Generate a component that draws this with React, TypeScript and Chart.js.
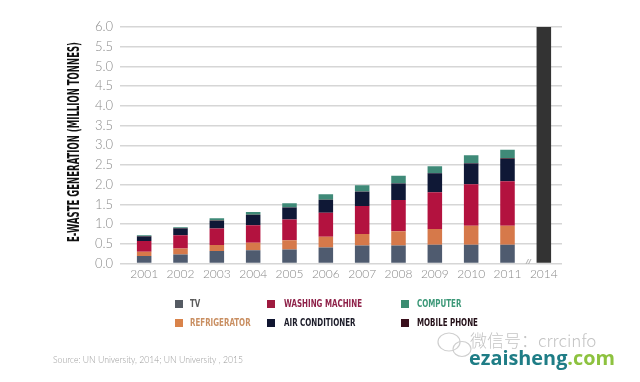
import React, { useEffect, useRef } from "react";
import { Chart, registerables } from "chart.js";

Chart.register(...registerables);

const categories = ["2001", "2002", "2003", "2004", "2005", "2006", "2007", "2008", "2009", "2010", "2011", "2014"];
const tvValues = [0.19, 0.23, 0.32, 0.34, 0.36, 0.41, 0.46, 0.46, 0.48, 0.48, 0.48, null];
const refrigeratorValues = [0.11, 0.15, 0.15, 0.19, 0.23, 0.27, 0.29, 0.36, 0.4, 0.48, 0.48, null];
const washingMachineValues = [0.27, 0.34, 0.42, 0.44, 0.53, 0.61, 0.71, 0.79, 0.93, 1.05, 1.13, null];
const airConditionerValues = [0.12, 0.17, 0.19, 0.26, 0.3, 0.32, 0.36, 0.42, 0.48, 0.53, 0.56, null];
const mobilePhoneValues = [0.01, 0.01, 0.01, 0.01, 0.01, 0.01, 0.01, 0.01, 0.01, 0.01, 0.02, null];
const computerValues = [0.02, 0.02, 0.06, 0.07, 0.1, 0.14, 0.16, 0.19, 0.17, 0.2, 0.22, null];
const total2014Values = [null, null, null, null, null, null, null, null, null, null, null, 6.0];
const yTickValues = [0, 0.5, 1, 1.5, 2, 2.5, 3, 3.5, 4, 4.5, 5, 5.5, 6];

const yTitle = "E-WASTE GENERATION (MILLION TONNES)";
const sourceText = "Source: UN University, 2014; UN University , 2015";

const legendItems = [
  { label: "TV", box: "#555b63", text: "#5b5b5b", col: 0, row: 0 },
  { label: "REFRIGERATOR", box: "#d9834a", text: "#c98f62", col: 0, row: 1 },
  { label: "WASHING MACHINE", box: "#9e1a3e", text: "#8e2048", col: 1, row: 0 },
  { label: "AIR CONDITIONER", box: "#101530", text: "#1b1b28", col: 1, row: 1 },
  { label: "COMPUTER", box: "#3a8c70", text: "#3c9878", col: 2, row: 0 },
  { label: "MOBILE PHONE", box: "#3a0f1c", text: "#241018", col: 2, row: 1 },
];
const legendBoxX = [175, 267, 401];
const legendTextX = [190, 284, 417];
const legendRowY = [304, 323];

const decorPlugin = {
  id: "decor",
  afterDraw(chart: any) {
    const ctx = chart.ctx as CanvasRenderingContext2D;
    ctx.save();
    // Y axis title (condensed bold)
    ctx.save();
    ctx.translate(75, 142);
    ctx.rotate(-Math.PI / 2);
    ctx.font = "bold 15px 'DejaVu Sans Condensed', 'DejaVu Sans'";
    ctx.fillStyle = "#111111";
    ctx.textAlign = "center";
    ctx.textBaseline = "middle";
    ctx.fillText(yTitle, 0, 0, 200);
    ctx.restore();

    // axis break mark near 2014
    ctx.strokeStyle = "#b0b0b0";
    ctx.lineWidth = 1;
    ctx.beginPath();
    ctx.moveTo(526, 264);
    ctx.lineTo(528.5, 259);
    ctx.moveTo(528.5, 264);
    ctx.lineTo(531, 259);
    ctx.stroke();

    // legend
    ctx.font = "bold 11px 'DejaVu Sans Condensed', 'DejaVu Sans'";
    const ref = ctx.measureText("WASHING MACHINE").width;
    const factor = 78 / ref;
    ctx.textAlign = "left";
    ctx.textBaseline = "middle";
    legendItems.forEach((it) => {
      const y = legendRowY[it.row];
      ctx.fillStyle = it.box;
      ctx.fillRect(legendBoxX[it.col], y - 4, 8, 8);
      ctx.fillStyle = it.text;
      const w = ctx.measureText(it.label).width * factor;
      ctx.fillText(it.label, legendTextX[it.col], y + 0.5, w);
    });

    // source
    ctx.font = "300 9.5px Lato";
    ctx.fillStyle = "#9a9a9a";
    ctx.textBaseline = "middle";
    ctx.fillText(sourceText, 53, 360, 190);

    // watermark
    ctx.strokeStyle = "#cfcfcf";
    ctx.lineWidth = 1.2;
    ctx.beginPath();
    ctx.ellipse(449, 342, 11, 9, 0, 0, Math.PI * 2);
    ctx.stroke();
    ctx.beginPath();
    ctx.ellipse(462, 349, 9, 7.5, 0, 0, Math.PI * 2);
    ctx.stroke();
    ctx.font = "300 17px 'Noto Sans CJK SC', 'Noto Sans'";
    ctx.fillStyle = "#c4c4c4";
    ctx.fillText("微信号：crrcinfo", 470, 341, 150);
    ctx.font = "bold 20px 'Open Sans', 'DejaVu Sans'";
    ctx.textBaseline = "alphabetic";
    const w1 = ctx.measureText("ezaisheng").width;
    const w2 = ctx.measureText(".com").width;
    const k = Math.min(1, 146 / (w1 + w2));
    ctx.fillStyle = "#1f7d86";
    ctx.fillText("ezaisheng", 469, 365, w1 * k);
    ctx.fillStyle = "#8dc23f";
    ctx.fillText(".com", 469 + w1 * k, 365, w2 * k);
    ctx.restore();
  },
};

export default function App() {
  const ref = useRef<HTMLCanvasElement | null>(null);
  useEffect(() => {
    document.body.style.margin = "0";
    const canvas = ref.current!;
    const mk = (label: string, data: (number | null)[], color: string) => ({
      label,
      data,
      backgroundColor: color,
      borderWidth: 0,
      stack: "s",
      barPercentage: 0.4,
      categoryPercentage: 1,
    });
    const chart = new Chart(canvas, {
      type: "bar",
      data: {
        labels: categories,
        datasets: [
          mk("TV", tvValues, "#4f5b6f"),
          mk("Refrigerator", refrigeratorValues, "#d6794a"),
          mk("Washing machine", washingMachineValues, "#b3123f"),
          mk("Air conditioner", airConditionerValues, "#0f1836"),
          mk("Mobile phone", mobilePhoneValues, "#3a0f1c"),
          mk("Computer", computerValues, "#3f8a78"),
          mk("2014", total2014Values, "#333333"),
        ],
      },
      options: {
        responsive: false,
        animation: false,
        layout: { padding: { top: 27, right: 78, bottom: 0, left: 0 } },
        plugins: { legend: { display: false }, tooltip: { enabled: false } },
        scales: {
          x: {
            stacked: true,
            grid: { display: false, drawTicks: false },
            border: { display: false },
            ticks: { color: "#8a8a8a", font: { family: "Lato", weight: "300", size: 12 }, padding: 3 },
            afterFit: (s: any) => {
              s.height = 382 - 27 - 236.6 - 0;
            },
          },
          y: {
            stacked: true,
            min: 0,
            max: 6,
            afterBuildTicks: (s: any) => {
              s.ticks = yTickValues.map((v) => ({ value: v }));
            },
            grid: { color: "#d6d6d6", lineWidth: 1.5, tickLength: 6, drawTicks: true },
            border: { display: false },
            ticks: {
              color: "#8a8a8a",
              font: { family: "Lato", weight: "300", size: 13 },
              padding: 7,
              callback: (v: any) => Number(v).toFixed(1),
            },
            afterFit: (s: any) => {
              s.width = 126;
            },
          },
        },
      },
      plugins: [decorPlugin],
    });
    return () => chart.destroy();
  }, []);
  return (
    <div style={{ width: 640, height: 382, background: "#ffffff" }}>
      <canvas ref={ref} width={640} height={382} style={{ display: "block" }} />
    </div>
  );
}
